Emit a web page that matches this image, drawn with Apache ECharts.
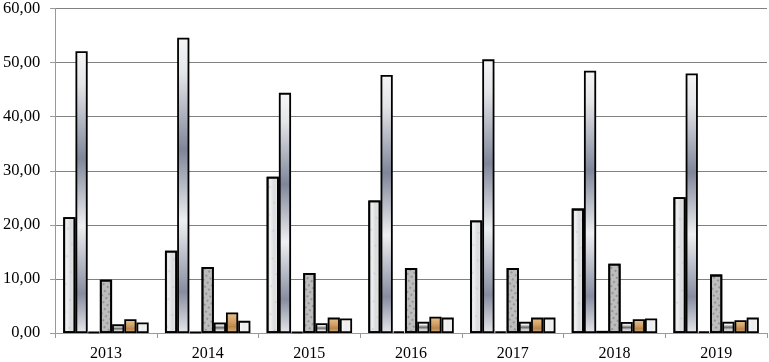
<!DOCTYPE html>
<html>
<head>
<meta charset="utf-8">
<script src="https://cdn.jsdelivr.net/npm/echarts@6/dist/echarts.min.js"></script>
<style>
html,body{margin:0;padding:0;background:#fff;}
#chart{width:769px;height:362px;}
</style>
</head>
<body>
<div id="chart"></div>
<script>
var categories = ['2013','2014','2015','2016','2017','2018','2019'];
var series1 = [21.4, 15.2, 28.9, 24.5, 20.8, 23.0, 25.1];
var series2 = [52.1, 54.6, 44.4, 47.7, 50.6, 48.5, 48.0];
var series3 = [0.2, 0.2, 0.2, 0.3, 0.3, 0.4, 0.3];
var series4 = [9.85, 12.2, 11.1, 12.0, 12.0, 12.8, 10.8];
var series5 = [1.6, 1.95, 1.8, 2.1, 2.1, 2.05, 2.1];
var series6 = [2.55, 3.8, 2.85, 3.0, 2.85, 2.55, 2.35];
var series7 = [1.95, 2.25, 2.7, 2.85, 2.85, 2.7, 2.85];
var yTicks = [0, 10, 20, 30, 40, 50, 60];

function lg(stops, horizontal) {
  return new echarts.graphic.LinearGradient(0, 0, horizontal ? 1 : 0, horizontal ? 0 : 1,
    stops.map(function (s) { return { offset: s[0], color: s[1] }; }));
}

var border = { borderColor: '#000', borderWidth: 1.8 };
var styles = [
  Object.assign({ color: lg([[0, '#d2d3d5'], [0.3, '#eeeff0'], [0.6, '#dadbdd'], [1, '#ebebec']], true),
    decal: { symbol: 'circle', symbolSize: 0.6, color: 'rgba(160,160,165,0.35)', dashArrayX: [[3, 7]], dashArrayY: [4, 9], rotation: 0.4 } }, border),
  Object.assign({ color: lg([[0, '#f6f6f7'], [0.12, '#e4e5e8'], [0.38, '#7f8699'], [0.62, '#eeeff1'], [0.86, '#878da0'], [1, '#e6e7ea']]) }, border),
  Object.assign({ color: '#1a1a1a' }, border),
  Object.assign({ color: '#bdbdbd',
    decal: { symbol: 'circle', symbolSize: 0.8, color: 'rgba(60,60,60,0.7)', dashArrayX: [[2, 3]], dashArrayY: [2, 3], rotation: 0.6 } }, border),
  Object.assign({ color: lg([[0, '#3a3a3a'], [0.25, '#f2f2f2'], [0.5, '#6a6a6a'], [0.75, '#e8e8e8'], [1, '#4a4a4a']]) }, border),
  Object.assign({ color: lg([[0, '#e8c590'], [0.45, '#d4a064'], [0.7, '#b68550'], [1, '#e2b57c']]) }, border),
  Object.assign({ color: lg([[0, '#fafafa'], [0.5, '#ececec'], [1, '#f6f6f6']], true) }, border)
];

var data = [series1, series2, series3, series4, series5, series6, series7];
var seriesList = data.map(function (d, i) {
  return {
    name: 'Series ' + (i + 1),
    type: 'bar',
    data: d,
    barGap: '0%',
    barCategoryGap: '16%',
    itemStyle: styles[i],
    emphasis: { disabled: true }
  };
});

var chart = echarts.init(document.getElementById('chart'), null, { renderer: 'canvas' });
chart.setOption({
  animation: false,
  backgroundColor: '#fff',
  grid: { left: 53, right: 2, top: 5, bottom: 28, containLabel: false },
  xAxis: {
    type: 'category',
    data: categories,
    axisLine: { show: true, lineStyle: { color: '#999', width: 1 } },
    axisTick: { show: true, inside: false, length: 5, alignWithLabel: false, lineStyle: { color: '#999' } },
    axisLabel: { fontFamily: 'Liberation Serif', fontSize: 16, color: '#000', margin: 13 }
  },
  yAxis: {
    type: 'value',
    min: 0,
    max: 60,
    interval: 10,
    axisLine: { show: true, lineStyle: { color: '#999', width: 1 } },
    axisTick: { show: true, length: 5, lineStyle: { color: '#999' } },
    splitLine: { show: true, lineStyle: { color: '#808080', width: 1 } },
    axisLabel: {
      fontFamily: 'Liberation Serif', fontSize: 16.5, color: '#000', margin: 15,
      formatter: function (v) { return v.toFixed(2).replace('.', ','); }
    }
  },
  series: seriesList
});
</script>
</body>
</html>
